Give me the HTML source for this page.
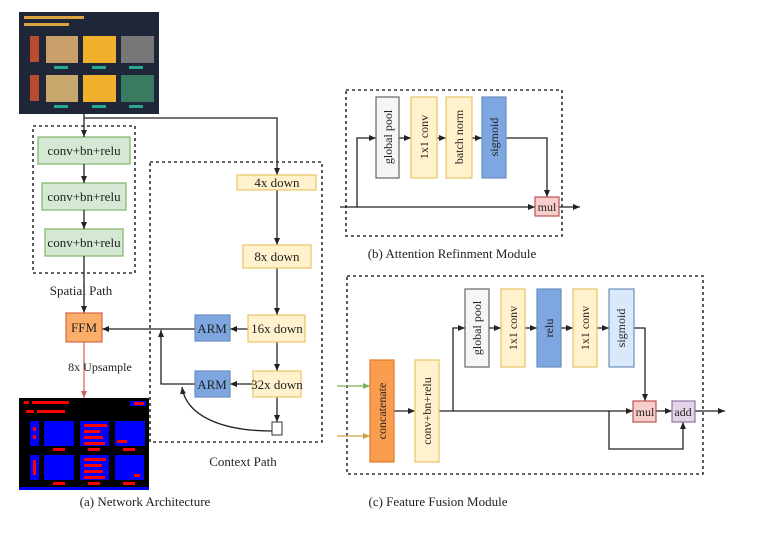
<!DOCTYPE html>
<html><head><style>body{margin:0;background:#fff}svg{display:block}text{font-family:"Liberation Serif",serif;fill:#222}</style></head><body>
<svg width="777" height="534" viewBox="0 0 777 534" xmlns="http://www.w3.org/2000/svg">
<defs><marker id="a" markerWidth="8" markerHeight="8" refX="7" refY="4" orient="auto" markerUnits="userSpaceOnUse"><path d="M0,1 L7,4 L0,7z" fill="#222"/></marker>
<marker id="g" markerWidth="8" markerHeight="8" refX="7" refY="4" orient="auto" markerUnits="userSpaceOnUse"><path d="M0,1 L7,4 L0,7z" fill="#7ab55c"/></marker>
<marker id="t" markerWidth="8" markerHeight="8" refX="7" refY="4" orient="auto" markerUnits="userSpaceOnUse"><path d="M0,1 L7,4 L0,7z" fill="#c9a24a"/></marker>
<marker id="r" markerWidth="8" markerHeight="8" refX="7" refY="4" orient="auto" markerUnits="userSpaceOnUse"><path d="M0,1 L7,4 L0,7z" fill="#d06060"/></marker></defs>
<g stroke="#333" stroke-width="1.6" stroke-dasharray="3,3" fill="none">
<rect x="33" y="126" width="102" height="147"/><rect x="150" y="162" width="172" height="280"/>
<rect x="346" y="90" width="216" height="146"/><rect x="347" y="276" width="356" height="198"/></g>
<!-- top image -->
<rect x="19" y="12" width="140" height="102" fill="#1e2638"/>
<rect x="24" y="16" width="60" height="3" fill="#d9a441"/><rect x="24" y="23" width="45" height="3" fill="#d9a441"/>
<rect x="30" y="36" width="9" height="26" fill="#b84b30"/><rect x="46" y="36" width="32" height="27" fill="#c9a06a"/><rect x="83" y="36" width="33" height="27" fill="#f0b02c"/><rect x="121" y="36" width="33" height="27" fill="#777"/>
<rect x="30" y="75" width="9" height="26" fill="#b84b30"/><rect x="46" y="75" width="32" height="27" fill="#c9a86e"/><rect x="83" y="75" width="33" height="27" fill="#f0b02c"/><rect x="121" y="75" width="33" height="27" fill="#3a7a60"/>
<g fill="#2aa88a"><rect x="54" y="66" width="14" height="3"/><rect x="92" y="66" width="14" height="3"/><rect x="129" y="66" width="14" height="3"/><rect x="54" y="105" width="14" height="3"/><rect x="92" y="105" width="14" height="3"/><rect x="129" y="105" width="14" height="3"/></g>
<!-- output image -->
<rect x="19" y="398" width="130" height="92" fill="#000"/><rect x="19" y="487" width="130" height="3" fill="#00f"/>
<g fill="#00f"><rect x="44" y="421" width="30" height="25"/><rect x="80" y="421" width="29" height="25"/><rect x="115" y="421" width="30" height="25"/><rect x="30" y="421" width="9" height="25"/><rect x="44" y="455" width="30" height="25"/><rect x="80" y="455" width="29" height="25"/><rect x="115" y="455" width="29" height="25"/><rect x="30" y="455" width="9" height="25"/><rect x="130" y="401" width="16" height="5"/></g>
<g fill="#f00"><rect x="24" y="401" width="5" height="3"/><rect x="32" y="401" width="37" height="3"/><rect x="26" y="410" width="8" height="3"/><rect x="37" y="410" width="28" height="3"/><rect x="84" y="424" width="23" height="3"/><rect x="84" y="430" width="16" height="3"/><rect x="84" y="436" width="19" height="3"/><rect x="84" y="442" width="21" height="3"/><rect x="84" y="458" width="22" height="3"/><rect x="84" y="464" width="18" height="3"/><rect x="84" y="470" width="19" height="3"/><rect x="84" y="476" width="21" height="3"/><rect x="33" y="427" width="3" height="4"/><rect x="33" y="435" width="3" height="4"/><rect x="33" y="460" width="3" height="15"/><rect x="117" y="440" width="10" height="3"/><rect x="134" y="474" width="6" height="3"/><rect x="53" y="448" width="12" height="3"/><rect x="88" y="448" width="12" height="3"/><rect x="123" y="448" width="12" height="3"/><rect x="53" y="482" width="12" height="3"/><rect x="88" y="482" width="12" height="3"/><rect x="123" y="482" width="12" height="3"/><rect x="134" y="402" width="10" height="3"/></g>
<!-- spatial path -->
<g stroke="#82b366" stroke-width="1.2" fill="#d5e8d4"><rect x="38" y="137" width="92" height="27"/><rect x="42" y="183" width="84" height="27"/><rect x="45" y="229" width="78" height="27"/></g>
<g font-size="13" text-anchor="middle"><text x="84" y="155">conv+bn+relu</text><text x="84" y="201">conv+bn+relu</text><text x="84" y="247">conv+bn+relu</text></g>
<g stroke="#222" stroke-width="1.3" fill="none">
<path d="M84 114V137" marker-end="url(#a)"/><path d="M84 164V183" marker-end="url(#a)"/><path d="M84 210V229" marker-end="url(#a)"/><path d="M84 256V313" marker-end="url(#a)"/>
<path d="M84 118H277V175" marker-end="url(#a)"/><path d="M277 190V245" marker-end="url(#a)"/><path d="M277 268V315" marker-end="url(#a)"/><path d="M277 342V371" marker-end="url(#a)"/><path d="M277 397V422" marker-end="url(#a)"/>
<path d="M248 329H230" marker-end="url(#a)"/><path d="M253 384H230" marker-end="url(#a)"/>
<path d="M195 329H102" marker-end="url(#a)"/><path d="M195 384H161V330" marker-end="url(#a)"/>
<path d="M272 431C220 431 186 415 182 387" marker-end="url(#a)"/></g>
<path d="M84 342V398" stroke="#d06060" stroke-width="1.2" marker-end="url(#r)"/>
<rect x="66" y="313" width="36" height="29" fill="#fbad6a" stroke="#d46a4a" stroke-width="1.2"/><text x="84" y="332" font-size="13" text-anchor="middle">FFM</text>
<g stroke="#6c8ebf" stroke-width="1.2" fill="#7ea6e0"><rect x="195" y="315" width="35" height="26"/><rect x="195" y="371" width="35" height="26"/></g>
<g font-size="13" text-anchor="middle"><text x="212" y="333">ARM</text><text x="212" y="389">ARM</text></g>
<g stroke="#e8c466" stroke-width="1.2" fill="#fff2cc"><rect x="237" y="175" width="79" height="15"/><rect x="243" y="245" width="68" height="23"/><rect x="248" y="315" width="57" height="27"/><rect x="253" y="371" width="48" height="26"/></g>
<g font-size="13" text-anchor="middle"><text x="277" y="187">4x down</text><text x="277" y="261">8x down</text><text x="277" y="333">16x down</text><text x="277" y="389">32x down</text></g>
<rect x="272" y="422" width="10" height="13" fill="#fff" stroke="#333"/>
<g font-size="13" text-anchor="middle"><text x="81" y="295">Spatial Path</text><text x="100" y="371" font-size="12">8x Upsample</text><text x="243" y="466">Context Path</text><text x="145" y="506">(a) Network Architecture</text><text x="452" y="258">(b) Attention Refinment Module</text><text x="438" y="506">(c) Feature Fusion Module</text></g>
<!-- ARM module -->
<g stroke="#222" stroke-width="1.3" fill="none">
<path d="M340 207H535" marker-end="url(#a)"/><path d="M559 207H580" marker-end="url(#a)"/><path d="M357 207V138H376" marker-end="url(#a)"/>
<path d="M399 138H411" marker-end="url(#a)"/><path d="M437 138H446" marker-end="url(#a)"/><path d="M472 138H482" marker-end="url(#a)"/><path d="M506 138H547V197" marker-end="url(#a)"/></g>
<rect x="376" y="97" width="23" height="81" fill="#f5f5f5" stroke="#666" stroke-width="1.2"/>
<rect x="411" y="97" width="26" height="81" fill="#fff2cc" stroke="#e8c466" stroke-width="1.2"/>
<rect x="446" y="97" width="26" height="81" fill="#fff2cc" stroke="#e8c466" stroke-width="1.2"/>
<rect x="482" y="97" width="24" height="81" fill="#7ea6e0" stroke="#6c8ebf" stroke-width="1.2"/>
<rect x="535" y="197" width="24" height="19" fill="#f8cecc" stroke="#b85450" stroke-width="1.2"/>
<g font-size="12" text-anchor="middle"><text transform="translate(392,137) rotate(-90)">global pool</text><text transform="translate(428,137) rotate(-90)">1x1 conv</text><text transform="translate(463,137) rotate(-90)">batch norm</text><text transform="translate(498,137) rotate(-90)">sigmoid</text><text x="547" y="211">mul</text></g>
<!-- FFM module -->
<path d="M337 386H370" stroke="#7ab55c" stroke-width="1.2" marker-end="url(#g)"/>
<path d="M337 436H370" stroke="#c9a24a" stroke-width="1.2" marker-end="url(#t)"/>
<g stroke="#222" stroke-width="1.3" fill="none">
<path d="M394 411H415" marker-end="url(#a)"/><path d="M439 411H633" marker-end="url(#a)"/><path d="M453 411V328H465" marker-end="url(#a)"/>
<path d="M489 328H501" marker-end="url(#a)"/><path d="M525 328H537" marker-end="url(#a)"/><path d="M561 328H573" marker-end="url(#a)"/><path d="M597 328H609" marker-end="url(#a)"/>
<path d="M634 328H645V401" marker-end="url(#a)"/><path d="M656 411H672" marker-end="url(#a)"/><path d="M695 411H725" marker-end="url(#a)"/>
<path d="M609 411V449H683V422" marker-end="url(#a)"/></g>
<rect x="370" y="360" width="24" height="102" fill="#fa9d4e" stroke="#e07b28" stroke-width="1.2"/>
<rect x="415" y="360" width="24" height="102" fill="#fff2cc" stroke="#e8c466" stroke-width="1.2"/>
<rect x="465" y="289" width="24" height="78" fill="#f5f5f5" stroke="#666" stroke-width="1.2"/>
<rect x="501" y="289" width="24" height="78" fill="#fff2cc" stroke="#e8c466" stroke-width="1.2"/>
<rect x="537" y="289" width="24" height="78" fill="#7ea6e0" stroke="#6c8ebf" stroke-width="1.2"/>
<rect x="573" y="289" width="24" height="78" fill="#fff2cc" stroke="#e8c466" stroke-width="1.2"/>
<rect x="609" y="289" width="25" height="78" fill="#dae8fc" stroke="#6c8ebf" stroke-width="1.2"/>
<rect x="633" y="401" width="23" height="21" fill="#f8cecc" stroke="#b85450" stroke-width="1.2"/>
<rect x="672" y="401" width="23" height="21" fill="#e1d5e7" stroke="#9673a6" stroke-width="1.2"/>
<g font-size="12" text-anchor="middle"><text transform="translate(386,411) rotate(-90)">concatenate</text><text transform="translate(431,411) rotate(-90)">conv+bn+relu</text><text transform="translate(481,328) rotate(-90)">global pool</text><text transform="translate(517,328) rotate(-90)">1x1 conv</text><text transform="translate(553,328) rotate(-90)">relu</text><text transform="translate(589,328) rotate(-90)">1x1 conv</text><text transform="translate(625,328) rotate(-90)">sigmoid</text><text x="645" y="416">mul</text><text x="683" y="416">add</text></g>
</svg>
</body></html>
